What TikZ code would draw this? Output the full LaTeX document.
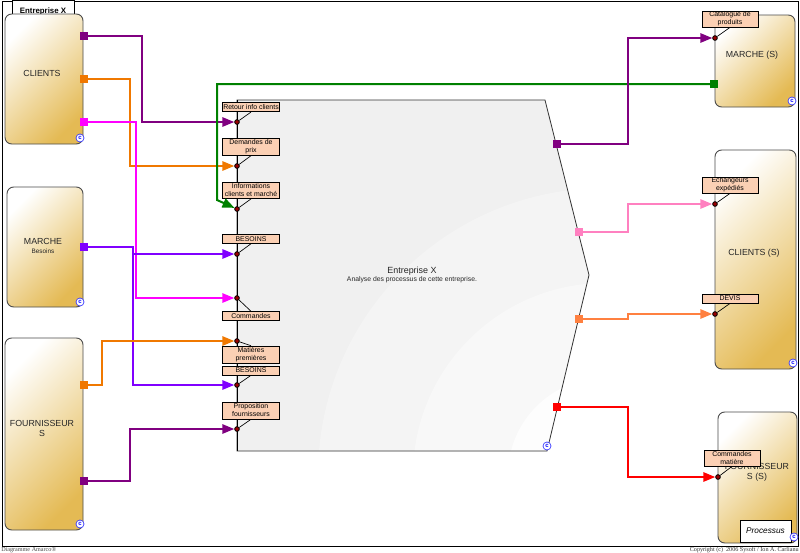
\documentclass[tikz,border=0pt]{standalone}
\usepackage{fontspec}
\setmainfont{Liberation Sans}
\newfontfamily\serifft{Liberation Serif}
\usetikzlibrary{arrows.meta,calc}
\definecolor{gold}{RGB}{228,186,84}
\definecolor{peach}{RGB}{251,208,180}
\definecolor{cpurple}{RGB}{128,0,128}
\definecolor{corange}{RGB}{240,120,0}
\definecolor{cmagenta}{RGB}{255,0,255}
\definecolor{cgreen}{RGB}{0,128,0}
\definecolor{cviolet}{RGB}{128,0,255}
\definecolor{cpink}{RGB}{255,128,192}
\definecolor{corange2}{RGB}{255,128,64}
\definecolor{cred}{RGB}{255,0,0}
\definecolor{procfill}{RGB}{240,240,240}
\definecolor{band1}{RGB}{244,244,244}
\definecolor{band2}{RGB}{248,248,248}
\definecolor{band3}{RGB}{253,253,253}
\begin{document}
\begin{tikzpicture}[x=0.75pt,y=-0.75pt,
  entity/.style={draw=black!70, line width=0.7pt, rounded corners=5pt, top color=white, bottom color=gold, shading angle=45, inner sep=0pt},
  lbl/.style={draw=black, line width=0.6pt, fill=peach, inner sep=0pt, minimum width=42.75pt, align=center, font=\fontsize{5.2}{6}\selectfont},
  rlbl/.style={lbl, minimum width=42pt},
  port/.style={rectangle, inner sep=0pt, minimum size=5.5pt},
  pin/.style={circle, draw=black, fill=red!60!black, line width=0.6pt, inner sep=0pt, minimum size=3.5pt},
  conn/.style={line width=1.5pt, -{Triangle[length=9pt,width=7pt]}},
  leader/.style={line width=0.5pt, black},
  cico/.style={circle, draw=blue!80, fill=white, line width=0.5pt, inner sep=0pt, minimum size=6pt, text=blue, font=\fontsize{4.5}{4.5}\selectfont\bfseries},
  big/.style={font=\fontsize{6.6}{7.5}\selectfont, align=center, inner sep=0pt, text=black!85}
]
\useasboundingbox (0,0) rectangle (800,553);
\fill[white] (0,0) rectangle (800,553);
% frame
\draw[line width=0.6pt] (2,1) rectangle (798,546);
\node[draw, fill=white, line width=0.6pt, minimum width=46.5pt, minimum height=17.25pt, inner sep=0pt, font=\bfseries\fontsize{5.9}{7}\selectfont] (tab) at (43,11.5) {Entreprise X};

% central process
\begin{scope}
\clip (237,100) -- (545,100) -- (589,275) -- (547,451) -- (237,451) -- cycle;
\fill[procfill] (237,100) rectangle (600,460);
\fill[band1] (605,475) circle (287);
\fill[band2] (605,475) circle (192);
\fill[band3] (605,475) circle (97);
\end{scope}
\draw[black!80, line width=0.6pt] (237,100) -- (545,100) -- (589,275) -- (547,451) -- (237,451) -- cycle;
\draw[line width=0.7pt] (237,100) -- (237,451);
\node[inner sep=0pt, align=center, font=\fontsize{6.7}{8}\selectfont, text=black!85] (ptitle) at (412,275) {Entreprise X\\[-1.5pt]{\fontsize{5.1}{6}\selectfont Analyse des processus de cette entreprise.}};

% left entities
\node[entity, minimum width=58.5pt, minimum height=97.5pt] (clients) at (44,79) {};
\node[big] (tclients) at (42,73) {CLIENTS};
\node[entity, minimum width=57pt, minimum height=90pt] (marche) at (45,247) {};
\node[big] (tmarche) at (43,246) {MARCHE\\[-1pt]{\fontsize{4.8}{5.5}\selectfont Besoins}};
\node[entity, minimum width=58.5pt, minimum height=144pt] (fourn) at (44,434) {};
\node[big] (tfourn) at (42,428) {FOURNISSEUR\\S};

% right entities
\node[entity, minimum width=60pt, minimum height=69pt] (marcheS) at (755,61) {};
\node[big] (tmarcheS) at (752,55) {MARCHE (S)};
\node[entity, minimum width=60.75pt, minimum height=164.25pt] (clientsS) at (755.5,259.5) {};
\node[big] (tclientsS) at (754,253) {CLIENTS (S)};
\node[entity, minimum width=59.25pt, minimum height=98.25pt] (fournS) at (757.5,477.5) {};
\node[big] (tfournS) at (757,472) {FOURNISSEUR\\S (S)};
\node[draw, fill=white, line width=0.6pt, minimum width=38.25pt, minimum height=16.5pt, inner sep=0pt, font=\itshape\fontsize{6.2}{7}\selectfont] (proc) at (765.5,531) {Processus};

% C icons
\node[cico] (c1) at (80,138) {c};
\node[cico] (c2) at (80,302) {c};
\node[cico] (c3) at (80,524) {c};
\node[cico] (c4) at (547,446) {c};
\node[cico] (c5) at (792,101) {c};
\node[cico] (c6) at (793,363) {c};
\node[cico] (c7) at (794,537) {c};

% input labels
\node[lbl, minimum height=7pt] (L1) at (251,107) {Retour info clients};
\node[lbl, minimum height=12.4pt] (L2) at (251,147) {Demandes de\\prix};
\node[lbl, minimum height=12pt] (L3) at (251,190.5) {Informations\\clients et marché};
\node[lbl, minimum height=6.5pt] (L4) at (251,239) {BESOINS};
\node[lbl, minimum height=6.5pt] (L5) at (251,316) {Commandes};
\node[lbl, minimum height=12.6pt] (L6) at (251,354.5) {Matières\\premières};
\node[lbl, minimum height=6.6pt] (L7) at (251,370.5) {BESOINS};
\node[lbl, minimum height=12.6pt] (L8) at (251,410.5) {Proposition\\fournisseurs};

% output labels
\node[rlbl, minimum height=12pt] (R1) at (730,19) {Catalogue de\\produits};
\node[rlbl, minimum height=12pt] (R2) at (730,185) {Echangeurs\\expédiés};
\node[rlbl, minimum height=6.8pt] (R3) at (730,298.5) {DEVIS};
\node[rlbl, minimum height=12pt] (R4) at (732,458) {Commandes\\matière};

% pins
\node[pin] (i1) at (237,122) {};
\node[pin] (i2) at (237,166) {};
\node[pin] (i3) at (237,209) {};
\node[pin] (i4) at (237,254) {};
\node[pin] (i5) at (237,298) {};
\node[pin] (i6) at (237,341) {};
\node[pin] (i7) at (237,385) {};
\node[pin] (i8) at (237,429) {};
\node[pin] (o1) at (715,38) {};
\node[pin] (o2) at (715,204) {};
\node[pin] (o3) at (715,314) {};
\node[pin] (o4) at (718,477) {};

% leaders
\draw[leader] (i1) -- (L1.south);
\draw[leader] (i2) -- (L2.south);
\draw[leader] (i3) -- (L3.south);
\draw[leader] (i4) -- (L4.south);
\draw[leader] (i5) -- (L5.north);
\draw[leader] (i6) -- (L6.north);
\draw[leader] (i7) -- (L7.south);
\draw[leader] (i8) -- (L8.south);
\draw[leader] (o1) -- (R1.south);
\draw[leader] (o2) -- (R2.south);
\draw[leader] (o3) -- (R3.south);
\draw[leader] (o4) -- (R4.south);

% ports
\node[port, fill=cpurple] (pC1) at (84,36) {};
\node[port, fill=corange] (pC2) at (84,79) {};
\node[port, fill=cmagenta] (pC3) at (84,122) {};
\node[port, fill=cviolet] (pM) at (84,247) {};
\node[port, fill=corange] (pF1) at (84,385) {};
\node[port, fill=cpurple] (pF2) at (84,481) {};
\node[port, fill=cgreen] (pMS) at (714,84) {};
\node[port, fill=cpurple] (pO1) at (557,144) {};
\node[port, fill=cpink] (pO2) at (579,232) {};
\node[port, fill=corange2] (pO3) at (579,319) {};
\node[port, fill=cred] (pO4) at (557,407) {};
\coordinate (gbend) at (217,200);

% connectors
\draw[conn, cpurple] (pC1) -- ++(58,0) |- (i1);
\draw[conn, corange] (pC2) -- ++(46,0) |- (i2);
\draw[conn, cmagenta] (pC3) -- ++(52,0) |- (i5);
\draw[conn, cgreen] (pMS) -| (gbend) -- (i3);
\draw[conn, cviolet] (pM) -- ++(49,0) |- (i4);
\draw[conn, cviolet] (pM) -- ++(49,0) |- (i7);
\draw[conn, corange] (pF1) -- ++(18,0) |- (i6);
\draw[conn, cpurple] (pF2) -- ++(46,0) |- (i8);
\draw[conn, cpurple] (pO1) -- ++(71,0) |- (o1);
\draw[conn, cpink] (pO2) -- ++(49,0) |- (o2);
\draw[conn, corange2] (pO3) -- ++(49,0) |- (o3);
\draw[conn, cred] (pO4) -- ++(71,0) |- (o4);

% footer
\node[anchor=base west, inner sep=0pt, font=\serifft\fontsize{4.6}{5}\selectfont, text=black!70] (foot1) at (1,551) {Diagramme Amarco®};
\node[anchor=base east, inner sep=0pt, font=\serifft\fontsize{4.6}{5}\selectfont, text=black!80] (foot2) at (799,551) {Copyright (c)\ \ 2006 Sysoft / Ion A. Carlianu};
\end{tikzpicture}
\end{document}
